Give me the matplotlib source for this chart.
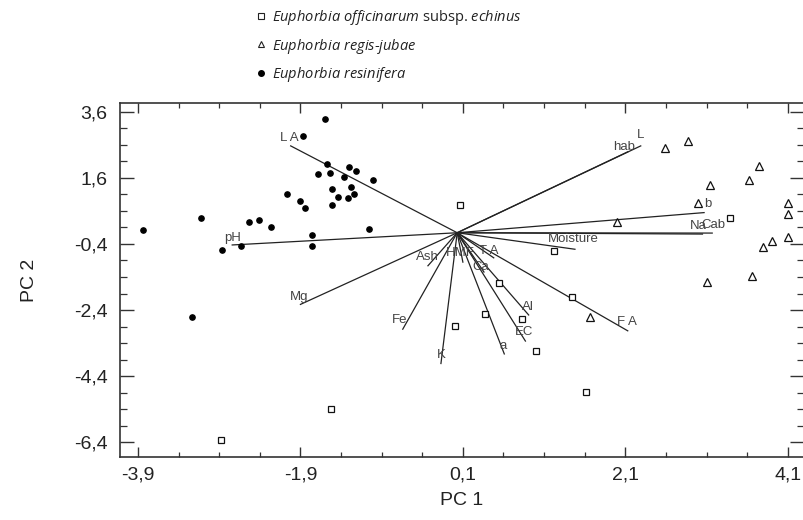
import matplotlib
matplotlib.use('Agg')
import numpy as np
import matplotlib.pyplot as plt
from matplotlib.lines import Line2D
from matplotlib.ticker import FixedLocator, FuncFormatter

# PC scores of the samples
officinarum_x = [0.06, 1.22, 1.44, 0.55, 0.37, 0.83, 0.00, 1.00, 1.62, 3.39, -1.52, -2.88]
officinarum_y = [0.78, -0.62, -2.00, -1.57, -2.53, -2.68, -2.87, -3.63, -4.89, 0.40, -5.41, -6.35]

regis_x = [2.59, 2.87, 3.75, 3.62, 3.14, 3.00, 4.10, 4.10, 2.00, 4.10, 3.90, 3.79, 3.66, 3.11, 1.67]
regis_y = [2.50, 2.72, 1.97, 1.54, 1.39, 0.83, 0.83, 0.50, 0.26, -0.18, -0.31, -0.48, -1.36, -1.56, -2.60]

resinifera_x = [-3.84, -3.12, -2.87, -2.63, -2.53, -2.41, -2.26, -2.07, -1.90, -1.84, -1.76, -1.76,
                -1.87, -1.60, -1.57, -1.68, -1.53, -1.51, -1.51, -1.44, -1.36, -1.30, -1.21, -1.28,
                -1.32, -1.24, -1.01, -1.06, -3.23]
resinifera_y = [0.02, 0.38, -0.58, -0.45, 0.28, 0.33, 0.12, 1.12, 0.90, 0.70, -0.14, -0.45,
                2.87, 3.39, 2.02, 1.71, 1.74, 1.26, 0.78, 1.02, 1.62, 1.94, 1.82, 1.32,
                1.00, 1.11, 1.54, 0.05, -2.60]

# loading vectors (end points)
origin = (0.03, -0.06)
var_names = ['L A', 'pH', 'Mg', 'L', 'hab', 'b', 'Na', 'Cab', 'Moisture', 'F A',
             'Al', 'EC', 'a', 'K', 'Fe', 'Ash', 'HMF', 'T A', 'Ca']
var_x = [-2.02, -2.74, -1.90, 2.29, 2.13, 3.07, 3.05, 3.17, 1.48, 2.13,
         0.91, 0.87, 0.61, -0.17, -0.64, -0.33, 0.10, 0.48, 0.36]
var_y = [2.57, -0.43, -2.23, 2.57, 2.39, 0.55, -0.10, -0.07, -0.56, -3.03,
         -2.55, -3.34, -3.73, -4.02, -2.98, -1.06, -0.95, -0.82, -1.25]
# label offsets from the end point (pixels)
label_dx = [-1, 0, -1, 0, -4, 4, -4, 1, -2, -1, -1, -1, -1, 0, -3, -1, -3, -5, -3]
label_dy = [8, 7, 7, 11, 5, 9, 8, 8, 10, 9, 8, 9, 8, 9, 9, 9, 9, 7, 5]

x_major = [-3.9, -1.9, 0.1, 2.1, 4.1]
y_major = [3.6, 1.6, -0.4, -2.4, -4.4, -6.4]

plt.rcParams['mathtext.fontset'] = 'custom'
plt.rcParams['mathtext.it'] = 'Open Sans:italic'
plt.rcParams['mathtext.rm'] = 'Open Sans'

fig = plt.figure(figsize=(8.04, 5.2), dpi=100)
ax = fig.add_axes([0.1493, 0.1212, 0.8507, 0.6808])

for name, ex, ey, dx, dy in zip(var_names, var_x, var_y, label_dx, label_dy):
    ax.plot([origin[0], ex], [origin[1], ey], color='#222222', lw=0.9, zorder=2)
    ax.annotate(name, (ex, ey), xytext=(dx, dy), textcoords='offset pixels',
                ha='center', va='center', fontsize=9.5, color='#444444',
                family='Liberation Sans', zorder=4)

ax.plot(officinarum_x, officinarum_y, ls='none', marker='s', ms=4.3, mfc='white',
        mec='#111111', mew=0.9, zorder=3)
ax.plot(regis_x, regis_y, ls='none', marker='^', ms=5.5, mfc='white',
        mec='#111111', mew=0.9, zorder=3)
ax.plot(resinifera_x, resinifera_y, ls='none', marker='o', ms=3.8, mfc='black',
        mec='black', zorder=3)

ax.set_xlim(-4.121, 4.30)
ax.set_ylim(-6.85, 3.87)

fmt = FuncFormatter(lambda v, p: f'{v:.1f}'.replace('.', ','))
ax.xaxis.set_major_locator(FixedLocator(x_major))
ax.xaxis.set_minor_locator(FixedLocator(np.arange(-3.9, 4.2, 0.5)))
ax.yaxis.set_major_locator(FixedLocator(y_major))
ax.yaxis.set_minor_locator(FixedLocator(np.arange(-6.4, 3.7, 0.5)))
ax.xaxis.set_major_formatter(fmt)
ax.yaxis.set_major_formatter(fmt)

ax.tick_params(which='both', direction='in', top=True, right=True, color='#333333',
               labelsize=14, labelcolor='#222222')
ax.tick_params(axis='x', which='major', length=7, width=1, pad=7)
ax.tick_params(axis='x', which='minor', length=3.5, width=0.9)
ax.tick_params(axis='y', which='major', length=10, width=1, pad=9)
ax.tick_params(axis='y', which='minor', length=5, width=0.9)
for lab in ax.get_xticklabels() + ax.get_yticklabels():
    lab.set_family('Liberation Sans')

for sp in ax.spines.values():
    sp.set_color('#333333')
    sp.set_linewidth(1.2)

ax.set_xlabel('PC 1', fontsize=14, family='Liberation Sans', color='#222222', labelpad=6)
ax.set_ylabel('PC 2', fontsize=14, family='Liberation Sans', color='#222222', labelpad=26)

handles = [
    Line2D([], [], ls='none', marker='s', ms=4, mfc='white', mec='#222222', mew=0.8),
    Line2D([], [], ls='none', marker='^', ms=5, mfc='white', mec='#222222', mew=0.8),
    Line2D([], [], ls='none', marker='o', ms=4, mfc='black', mec='black'),
]
labels = [r'$\it{Euphorbia\ officinarum}$ subsp. $\it{echinus}$',
          r'$\it{Euphorbia\ regis}$-$\it{jubae}$',
          r'$\it{Euphorbia\ resinifera}$']
leg = fig.legend(handles, labels, loc='upper left', bbox_to_anchor=(0.303, 1.01),
                 frameon=False, handlelength=0.6, handletextpad=0.45,
                 labelspacing=0.66, prop={'family': 'Open Sans', 'size': 10.5})
for t in leg.get_texts():
    t.set_color('#222222')

fig.savefig('out.png', dpi=100)
